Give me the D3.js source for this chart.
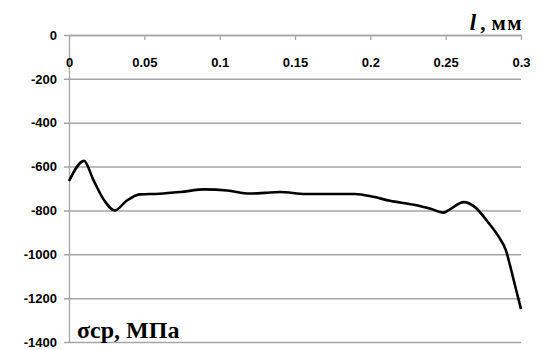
<!DOCTYPE html>
<html>
<head>
<meta charset="utf-8">
<script src="https://cdn.jsdelivr.net/npm/d3@7"></script>
<style>
  html, body { margin: 0; padding: 0; background: #fff; }
  svg { display: block; }
  .serif-title { font-family: "Liberation Serif", "DejaVu Serif", "Times New Roman", serif; font-weight: bold; }
</style>
</head>
<body>
<svg id="chart" width="543" height="350"></svg>
<script>
// Mean stress along the depth coordinate l
const depthMm = [0, 0.01, 0.016, 0.023, 0.0305, 0.038, 0.047, 0.06, 0.074, 0.09, 0.105, 0.12, 0.13, 0.14, 0.157, 0.19, 0.202, 0.213, 0.228, 0.24, 0.2485, 0.2517, 0.262, 0.2695, 0.278, 0.286, 0.29, 0.2927, 0.296, 0.3];
const stressMPa = [-666, -574, -658, -750, -800, -757, -727, -724, -716, -704, -709, -723, -720, -716, -725, -725, -738, -756, -773, -792, -810, -800, -762, -785, -853, -929, -982, -1050, -1141, -1250];

const xTicks = [0, 0.05, 0.1, 0.15, 0.2, 0.25, 0.3];
const xTickLabels = ["0", "0.05", "0.1", "0.15", "0.2", "0.25", "0.3"];
const yTicks = [0, -200, -400, -600, -800, -1000, -1200, -1400];
const yTickLabels = ["0", "-200", "-400", "-600", "-800", "-1000", "-1200", "-1400"];

const svg = d3.select("#chart");
const plotLeft = 69, plotRight = 521, plotTop = 35, plotBottom = 342;

const x = d3.scaleLinear().domain([0, 0.3]).range([plotLeft, plotRight]);
const y = d3.scaleLinear().domain([0, -1400]).range([plotTop, plotBottom]);

const gridColor = "#a6a6a6";
const tickFont = "'Liberation Sans', Arial, sans-serif";

// horizontal gridlines with short left ticks
const yAxis = d3.axisLeft(y)
  .tickValues(yTicks)
  .tickSize(-(plotRight - plotLeft))
  .tickSizeOuter(0)
  .tickPadding(12)
  .tickFormat((d, i) => yTickLabels[i]);
const gy = svg.append("g").attr("transform", `translate(${plotLeft},0)`).call(yAxis);
gy.select(".domain").attr("stroke", gridColor).attr("stroke-width", 1.3);
gy.selectAll(".tick line").attr("stroke", gridColor).attr("stroke-width", 1.5).attr("x1", -5);
gy.selectAll(".tick text")
  .attr("fill", "#000")
  .style("font-family", tickFont)
  .style("font-weight", "bold")
  .style("font-size", "13px");

// x axis along the zero line, labels below
const xAxis = d3.axisBottom(x)
  .tickValues(xTicks)
  .tickSize(5)
  .tickSizeOuter(0)
  .tickPadding(18)
  .tickFormat((d, i) => xTickLabels[i]);
const gx = svg.append("g").attr("transform", `translate(0,${y(0)})`).call(xAxis);
gx.select(".domain").attr("stroke", gridColor).attr("stroke-width", 1.5);
gx.selectAll(".tick line").attr("stroke", gridColor).attr("stroke-width", 1.3);
gx.selectAll(".tick text")
  .attr("fill", "#000")
  .style("font-family", tickFont)
  .style("font-weight", "bold")
  .style("font-size", "13px");

// stress curve
const line = d3.line()
  .x((d, i) => x(depthMm[i]))
  .y((d, i) => y(stressMPa[i]))
  .curve(d3.curveMonotoneX);
svg.append("path")
  .datum(stressMPa)
  .attr("d", line)
  .attr("fill", "none")
  .attr("stroke", "#000")
  .attr("stroke-width", 2.6)
  .attr("stroke-linejoin", "round");

// axis titles
const xt = svg.append("text")
  .attr("class", "serif-title")
  .attr("x", 523).attr("y", 30)
  .attr("text-anchor", "end")
  .style("font-size", "21px");
xt.append("tspan").style("font-style", "italic").style("font-size", "23px").text("l");
xt.append("tspan").attr("dx", 4).text(",");
xt.append("tspan").attr("dx", 6).style("letter-spacing", "1.5px").text("мм");

svg.append("text")
  .attr("class", "serif-title")
  .attr("x", 77).attr("y", 338)
  .style("font-size", "24px")
  .text("σср, МПа");
</script>
</body>
</html>
